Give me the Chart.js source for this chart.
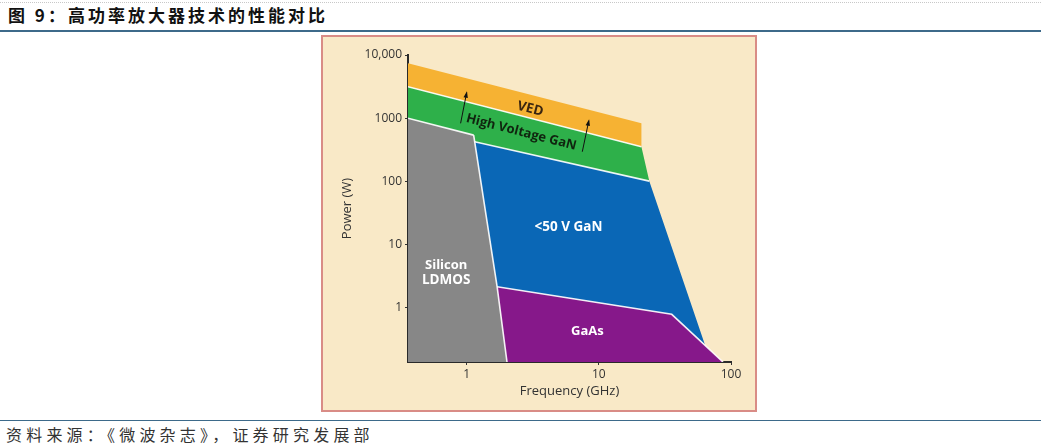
<!DOCTYPE html>
<html><head><meta charset="utf-8">
<script src="https://cdn.jsdelivr.net/npm/chart.js@4/dist/chart.umd.min.js"></script>
<style>
html,body{margin:0;padding:0;background:#fff;width:1041px;height:447px;overflow:hidden;position:relative;}
#topdots{position:absolute;left:0;top:2px;width:1041px;border-top:1px dotted #c8c8c8;}
#title{position:absolute;left:8px;top:3px;font-family:"Noto Sans CJK SC",sans-serif;font-size:17px;font-weight:bold;letter-spacing:3px;color:#111;line-height:24px;white-space:nowrap;}
#line1{position:absolute;left:0;top:30px;width:1041px;border-top:2px solid #3d6a8a;}
#box{position:absolute;left:321px;top:35px;width:432px;height:373px;background:#f9e9c7;border:2px solid #d98c86;}
#box canvas{position:absolute;left:0;top:0;}
#line2{position:absolute;left:0;top:420px;width:1041px;border-top:1px solid #3d6a8a;}
#source{position:absolute;left:6px;top:424px;font-family:"Noto Sans CJK SC",sans-serif;font-size:16px;color:#333;line-height:20px;white-space:nowrap;letter-spacing:4.2px;}
</style></head>
<body>
<div id="topdots"></div>
<div id="title">图 9：高功率放大器技术的性能对比</div>
<div id="line1"></div>
<div id="box"><canvas id="c" width="432" height="373"></canvas></div>
<div id="line2"></div>
<div id="source">资料来源：《微波杂志》，证券研究发展部</div>
<script>
// ---- data (frequency in GHz, power in W) ----
const freqMin = 0.36, freqMax = 100;
const powMin = 0.139, powMax = 10000;

const xTicks = [1, 10, 100];
const xTickLabels = ['1', '10', '100'];
const yTicks = [1, 10, 100, 1000, 10000];
const yTickLabels = ['1', '10', '100', '1000', '10,000'];

const vedFreq = [0.36, 21, 21, 0.36];
const vedPower = [7400, 830, 354, 3150];

const hvganFreq = [0.36, 21, 24.1, 1.15, 1.13, 0.36];
const hvganPower = [3150, 354, 101, 425, 540, 1000];

const ldmosFreq = [0.36, 1.13, 1.7, 2.02, 0.36];
const ldmosPower = [1000, 540, 2.16, 0.139, 0.139];

const ganFreq = [1.15, 24.1, 63.5, 35.6, 1.7];
const ganPower = [425, 101, 0.26, 0.79, 2.16];

const gaasFreq = [1.7, 35.6, 87, 2.02];
const gaasPower = [2.16, 0.79, 0.139, 0.139];

const arrowFreq = [[0.90, 1.0], [7.5, 8.4]];
const arrowPower = [[830, 2530], [295, 912]];

const regionNames = ['VED', 'High Voltage GaN', '<50 V GaN', 'Silicon', 'LDMOS', 'GaAs'];
const regionFreq = [3.03, 2.59, 5.89, 0.70, 0.70, 8.2];
const regionPower = [1400, 600, 19.2, 4.63, 2.75, 0.43];
const regionSize = [13.5, 13, 13.5, 13, 13.5, 13];

// ---- helpers ----
const pts = (fx, py, idx) => (idx || fx.map((_, i) => i)).map(i => ({x: fx[i], y: py[i]}));
const closed = (fx, py) => { const p = pts(fx, py); p.push(p[0]); return p; };

const shape = (label, fx, py, color, order) => ({
  label, data: closed(fx, py), showLine: true, fill: 'shape',
  backgroundColor: color, borderColor: color, borderWidth: 0,
  pointRadius: 0, tension: 0, order
});
const divider = (data) => ({
  data, showLine: true, fill: false, borderColor: 'rgba(255,255,255,0.9)',
  borderWidth: 1.6, pointRadius: 0, tension: 0, order: 0
});

const datasets = [
  shape('VED', vedFreq, vedPower, '#f6b233', 5),
  shape('High Voltage GaN', hvganFreq, hvganPower, '#2eb04a', 5),
  shape('Silicon LDMOS', ldmosFreq, ldmosPower, '#878787', 4),
  shape('<50 V GaN', ganFreq, ganPower, '#0a67b6', 3),
  shape('GaAs', gaasFreq, gaasPower, '#86188a', 2),
  divider(pts(vedFreq, vedPower, [3, 2])),
  divider(pts(hvganFreq, hvganPower, [5, 4])),
  divider(pts(ldmosFreq, ldmosPower, [1, 2, 3])),
  divider(pts(hvganFreq, hvganPower, [3, 2])),
  divider(pts(gaasFreq, gaasPower, [0, 1, 2]))
];

const overlay = {
  id: 'overlay',
  afterDatasetsDraw(chart) {
    const {ctx, scales: {x, y}} = chart;
    ctx.save();
    // arrows
    ctx.strokeStyle = '#111'; ctx.fillStyle = '#111'; ctx.lineWidth = 1;
    arrowFreq.forEach((fx, i) => {
      const x0 = x.getPixelForValue(fx[0]), y0 = y.getPixelForValue(arrowPower[i][0]);
      const x1 = x.getPixelForValue(fx[1]), y1 = y.getPixelForValue(arrowPower[i][1]);
      const a = Math.atan2(y1 - y0, x1 - x0);
      ctx.beginPath(); ctx.moveTo(x0, y0); ctx.lineTo(x1, y1); ctx.stroke();
      ctx.beginPath();
      ctx.moveTo(x1 + 1.5 * Math.cos(a), y1 + 1.5 * Math.sin(a));
      ctx.lineTo(x1 - 5 * Math.cos(a) + 2.2 * Math.sin(a), y1 - 5 * Math.sin(a) - 2.2 * Math.cos(a));
      ctx.lineTo(x1 - 5 * Math.cos(a) - 2.2 * Math.sin(a), y1 - 5 * Math.sin(a) + 2.2 * Math.cos(a));
      ctx.closePath(); ctx.fill();
    });
    // slant angle from VED/HV GaN divider
    const ax0 = x.getPixelForValue(vedFreq[3]), ay0 = y.getPixelForValue(vedPower[3]);
    const ax1 = x.getPixelForValue(vedFreq[2]), ay1 = y.getPixelForValue(vedPower[2]);
    const ang = Math.atan2(ay1 - ay0, ax1 - ax0);
    ctx.textAlign = 'center'; ctx.textBaseline = 'middle';
    regionNames.forEach((t, i) => {
      const px = x.getPixelForValue(regionFreq[i]), py = y.getPixelForValue(regionPower[i]);
      ctx.save();
      ctx.font = 'bold ' + regionSize[i] + 'px "Open Sans", sans-serif';
      ctx.translate(px, py);
      if (i < 2) { ctx.rotate(ang); ctx.fillStyle = i === 0 ? '#3a2510' : '#10240f'; }
      else ctx.fillStyle = '#ffffff';
      ctx.fillText(t, 0, 0);
      ctx.restore();
    });
    ctx.restore();
  }
};

const tickFont = {family: '"Open Sans", sans-serif', size: 12};
new Chart(document.getElementById('c'), {
  type: 'scatter',
  data: {datasets},
  options: {
    responsive: false, animation: false,
    layout: {padding: {left: 0, right: 24, top: 18, bottom: 0}},
    plugins: {legend: {display: false}, tooltip: {enabled: false}},
    scales: {
      x: {
        type: 'logarithmic', min: freqMin, max: freqMax, z: 1,
        afterBuildTicks: s => { s.ticks = xTicks.map(v => ({value: v})); },
        afterFit: s => { s.height = 48; },
        ticks: {color: '#333', font: tickFont, padding: 2, maxRotation: 0,
          callback: v => xTickLabels[xTicks.indexOf(v)]},
        grid: {drawOnChartArea: false, tickLength: 3, color: '#333', lineWidth: 1},
        border: {color: '#2a2a2a', width: 2},
        title: {display: true, text: 'Frequency (GHz)', color: '#333',
          font: {family: '"Open Sans", sans-serif', size: 13}, padding: {top: 0, bottom: 11}}
      },
      y: {
        type: 'logarithmic', min: powMin, max: powMax, z: 1,
        afterBuildTicks: s => { s.ticks = yTicks.map(v => ({value: v})); },
        afterFit: s => { s.width = 85; },
        ticks: {color: '#333', font: tickFont, padding: 3,
          callback: v => yTickLabels[yTicks.indexOf(v)]},
        grid: {drawOnChartArea: false, tickLength: 3, color: '#333', lineWidth: 1},
        border: {color: '#2a2a2a', width: 2},
        title: {display: true, text: 'Power (W)', color: '#333',
          font: {family: '"Open Sans", sans-serif', size: 13}, padding: {top: 16, bottom: 0}}
      }
    }
  },
  plugins: [overlay]
});
</script>
</body></html>
